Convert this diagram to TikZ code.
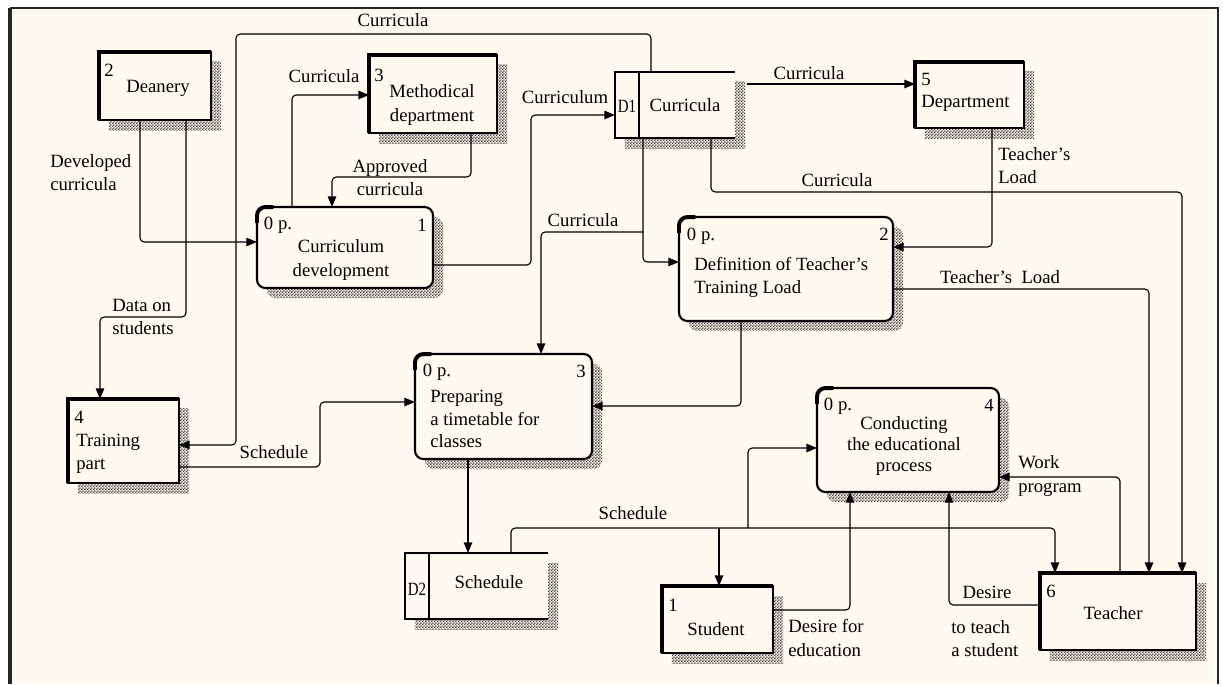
\documentclass[tikz,border=0pt]{standalone}
\usepackage{fontspec}
\setmainfont{Liberation Serif}
\usetikzlibrary{arrows.meta,shadows,patterns}
\definecolor{paper}{RGB}{255,250,239}
\pgfdeclarepatternformonly{checker}{\pgfqpoint{0pt}{0pt}}{\pgfqpoint{2pt}{2pt}}{\pgfqpoint{2pt}{2pt}}{%
  \pgfpathrectangle{\pgfqpoint{0pt}{0pt}}{\pgfqpoint{1pt}{1pt}}%
  \pgfpathrectangle{\pgfqpoint{1pt}{1pt}}{\pgfqpoint{1pt}{1pt}}%
  \pgfusepath{fill}}
\tikzset{
  hatch/.style={drop shadow={shadow xshift=.25cm,shadow yshift=-.25cm,opacity=1,pattern=checker,pattern color=black!75}},
  entity/.style={draw,line width=1.5pt,fill=paper,outer sep=0pt,inner sep=0pt,hatch},
  process/.style={draw,line width=1.5pt,rounded corners=6pt,fill=paper,outer sep=0pt,inner sep=0pt,hatch},
  store/.style={fill=paper,outer sep=0pt,inner sep=0pt,hatch},
  flow/.style={line width=.8pt,rounded corners=3pt,-{Triangle[length=7.5pt,width=6pt]}},
  txt/.style={inner sep=0pt,align=center},
  txtl/.style={inner sep=0pt,align=left,anchor=west}
}
\newcommand{\heavy}[1]{\draw[line width=3.5pt] (#1.south west) -- (#1.north west) -- (#1.north east);}
\newcommand{\corner}[1]{\draw[line width=2.8pt] (#1.north west) ++(0,16) -- ++(0,-7.5) arc[start angle=180,end angle=90,radius=6pt] -- ++(8,0);}
\newcommand{\storelines}[1]{\draw[line width=1.5pt] (#1.north east) -- (#1.north west) -- (#1.south west) -- (#1.south east);
  \draw[line width=1.5pt] ([xshift=.6cm]#1.north west) -- ([xshift=.6cm]#1.south west);}

\begin{document}
\begin{tikzpicture}[x=.025cm,y=-.025cm,font=\fontsize{13.3}{16.4}\selectfont]
\useasboundingbox (0,0) rectangle (1223,684);
\fill[paper] (10,8) rectangle (1215,684);
\draw[line width=1.4pt,black!85] (1218,684) -- (1218,8) -- (10,8);
\draw[line width=2.2pt,black!85] (10,8) -- (10,684);

\node[entity,minimum width=2.8cm,minimum height=1.7cm] (dean) at (155,86) {};
\node[entity,minimum width=3.2cm,minimum height=1.95cm] (meth) at (433,94) {};
\node[entity,minimum width=2.725cm,minimum height=1.65cm] (dept) at (969.5,95) {};
\node[entity,minimum width=2.775cm,minimum height=2.1cm] (train) at (123.5,441) {};
\node[entity,minimum width=2.775cm,minimum height=1.675cm] (student) at (717.5,619.5) {};
\node[entity,minimum width=3.9cm,minimum height=1.925cm] (teacher) at (1118,611.5) {};
\node[process,minimum width=4.4cm,minimum height=2.025cm] (p1) at (345,247.5) {};
\node[process,minimum width=5.35cm,minimum height=2.6cm] (p2) at (786,269) {};
\node[process,minimum width=4.425cm,minimum height=2.625cm] (p3) at (503.5,406.5) {};
\node[process,minimum width=4.55cm,minimum height=2.6cm] (p4) at (908,440) {};
\node[store,minimum width=3cm,minimum height=1.65cm] (d1) at (675,105) {};
\node[store,minimum width=3.575cm,minimum height=1.65cm] (d2) at (476.5,586) {};
\foreach \e in {dean,meth,dept,train,student,teacher} {\heavy{\e}}
\foreach \p in {p1,p2,p3,p4} {\corner{\p}}
\storelines{d1}
\storelines{d2}

\node[txt] (dean-id) at (109,70) {2};
\node[txt] (dean-t) at (158,88) {Deanery};
\node[txt] (meth-id) at (379,75) {3};
\node[txt] (meth-t) at (432,105) {Methodical\\department};
\node[txt] (dept-id) at (926,79) {5};
\node[txtl] (dept-t) at (921,103) {Department};
\node[txt] (train-id) at (79,417) {4};
\node[txtl] (train-t) at (76,454) {Training\\ part};
\node[txt] (student-id) at (673,605) {1};
\node[txt] (student-t) at (716,629) {Student};
\node[txt] (teacher-id) at (1051,591) {6};
\node[txt] (teacher-t) at (1113,613) {Teacher};

\node[txt] (p1-no) at (278,225) {0 p.};
\node[txt] (p1-id) at (422,225) {1};
\node[txt] (p1-t) at (341,260) {Curriculum\\development};
\node[txt] (p2-no) at (701,236) {0 p.};
\node[txt] (p2-id) at (884,234) {2};
\node[txtl] (p2-t) at (694,277) {Definition of Teacher's\\Training Load};
\node[txt] (p3-no) at (437,372) {0 p.};
\node[txt] (p3-id) at (581,371) {3};
\node[txtl,font=\fontsize{13.3}{16}\selectfont] (p3-t) at (430,419) {Preparing\\a timetable for\\classes};
\node[txt] (p4-no) at (838,406) {0 p.};
\node[txt] (p4-id) at (989,405) {4};
\node[txt,font=\fontsize{13.3}{14.6}\selectfont] (p4-t) at (904,446) {Conducting\\the educational\\process};

\node[txt] (d1-id) at (627,106) {\scalebox{.8}[1]{D1}};
\node[txt] (d1-t) at (685,105) {Curricula};
\node[txt] (d2-id) at (417,589) {\scalebox{.8}[1]{D2}};
\node[txt] (d2-t) at (489,582) {Schedule};

\node[txt] (l-top) at (393,20) {Curricula};
\node[txt] (l-meth) at (324,76) {Curricula};
\node[txt] (l-appr) at (390,178) {Approved\\curricula};
\node[txtl] (l-dev) at (50,173) {Developed\\curricula};
\node[txtl] (l-data) at (112,317) {Data on\\students};
\node[txt] (l-sch1) at (274,452) {Schedule};
\node[txt] (l-cum) at (565,97) {Curriculum};
\node[txt] (l-dept) at (809,73) {Curricula};
\node[txt] (l-teach) at (837,180) {Curricula};
\node[txt] (l-p3) at (583,220) {Curricula};
\node[txtl] (l-load1) at (998,166) {Teacher's\\Load};
\node[txt] (l-load2) at (1000,277) {Teacher's\ \ Load};
\node[txt] (l-sch2) at (633,513) {Schedule};
\node[txtl] (l-desire1) at (788,638) {Desire for\\education};
\node[txt] (l-desire2) at (987,592) {Desire};
\node[txtl] (l-teach2) at (951,639) {to teach\\a student};
\node[txtl] (l-work) at (1018,476) {Work\\program};

\coordinate (jd1) at (643,232);
\coordinate (js1) at (719,528);
\coordinate (js2) at (748,528);

\draw[flow] (dean.south -| 140,0) |- (p1.west |- 0,242);
\draw[flow] (dean.south -| 186,0) |- (100,317) -- (train.north -| 100,0);
\draw[flow] (d1.north -| 651,0) |- (236,34) |- (train.east |- 0,445);
\draw[flow] (train.east |- 0,467) -| (320,402) -- (p3.west |- 0,402);
\draw[flow] (p1.north -| 292,0) |- (meth.west |- 0,95);
\draw[flow] (meth.south -| 471,0) |- (332,177) -- (p1.north -| 332,0);
\draw[flow] (p1.east |- 0,265) -| (531,115) -- (d1.west |- 0,115);
\draw[flow] (d1.east |- 0,84) ++(12,0) -- (dept.west |- 0,84);
\draw[flow] (d1.south -| 711,0) |- (1182,192) -- (teacher.north -| 1182,0);
\draw[flow] (d1.south -| 643,0) |- (p2.west |- 0,262);
\draw[flow] (jd1) -| (p3.north -| 541,0);
\draw[flow] (dept.south -| 992,0) |- (p2.east |- 0,247);
\draw[flow] (p2.east |- 0,289) -| (teacher.north -| 1149,0);
\draw[flow] (p2.south -| 741,0) |- (p3.east |- 0,406);
\draw[flow] (p3.south -| 468,0) -- (d2.north -| 468,0);
\draw[flow] (d2.north -| 511,0) |- (1055,528) -- (teacher.north -| 1055,0);
\draw[flow] (js1) -- (student.north -| 719,0);
\draw[flow] (js2) |- (p4.west |- 0,448);
\draw[flow] (student.east |- 0,610) -| (p4.south -| 850,0);
\draw[flow] (teacher.west |- 0,605) -| (p4.south -| 949,0);
\draw[flow] (teacher.north -| 1120,0) |- (p4.east |- 0,477);
\end{tikzpicture}
\end{document}
